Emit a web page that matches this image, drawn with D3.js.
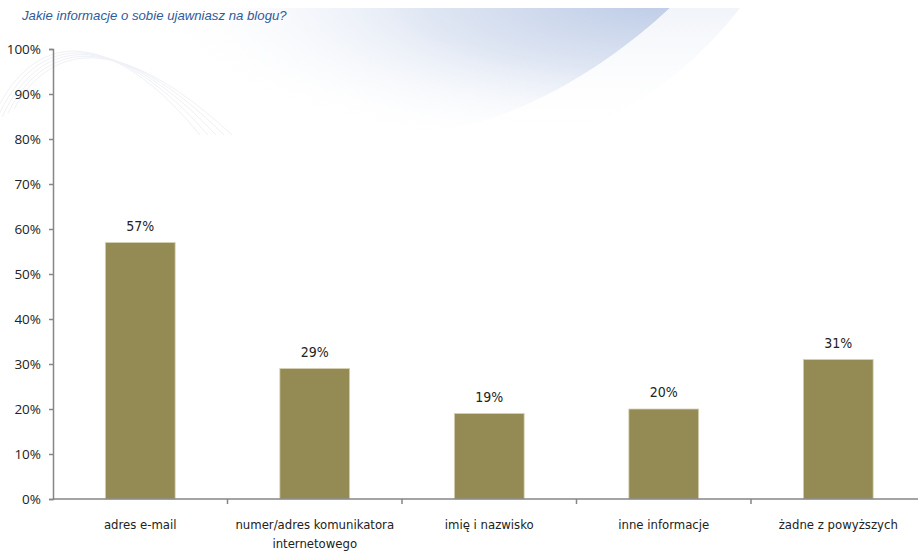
<!DOCTYPE html>
<html>
<head>
<meta charset="utf-8">
<script src="https://cdn.jsdelivr.net/npm/d3@7"></script>
<style>
  body { margin: 0; background: #fff; }
  svg { display: block; }
</style>
</head>
<body>
<svg class="chart"></svg>
<script>
const width = 918;
const height = 552;

const title = "Jakie informacje o sobie ujawniasz na blogu?";
const categories = [
    ["adres e-mail"],
    ["numer/adres komunikatora", "internetowego"],
    ["imię i nazwisko"],
    ["inne informacje"],
    ["żadne z powyższych"]
];
const values = [57, 29, 19, 20, 31];
const yTicks = [0, 10, 20, 30, 40, 50, 60, 70, 80, 90, 100];

const margin = { left: 53, top: 49, bottom: 499, right: 925.5 };
const labelFont = "'Liberation Sans Narrow', 'DejaVu Sans Condensed', 'Open Sans', sans-serif";

const svg = d3.select('svg.chart')
    .attr('width', width)
    .attr('height', height);

// soft blue swoosh in the background
const defs = svg.append('defs');
const grad = defs.append('radialGradient')
    .attr('id', 'swoosh')
    .attr('gradientUnits', 'userSpaceOnUse')
    .attr('cx', 660).attr('cy', 0).attr('r', 520)
    .attr('gradientTransform', 'translate(660,0) scale(1,0.3) translate(-660,0)');
grad.append('stop').attr('offset', '0').attr('stop-color', '#bccbe6');
grad.append('stop').attr('offset', '0.45').attr('stop-color', '#dfe6f3');
grad.append('stop').attr('offset', '1').attr('stop-color', '#ffffff').attr('stop-opacity', 0);

const grad2 = defs.append('linearGradient')
    .attr('id', 'veil')
    .attr('x1', '0').attr('y1', '0')
    .attr('x2', '0').attr('y2', '1');
grad2.append('stop').attr('offset', '0').attr('stop-color', '#f1f4f9');
grad2.append('stop').attr('offset', '1').attr('stop-color', '#ffffff').attr('stop-opacity', 0);

svg.append('path')
    .attr('d', 'M0,8 L670,8 C630,45 560,100 470,125 C330,140 150,140 0,125 Z')
    .attr('fill', 'url(#swoosh)');
svg.append('path')
    .attr('d', 'M670,8 L740,8 C700,60 640,110 560,140 L470,125 C560,100 630,45 670,8 Z')
    .attr('fill', 'url(#veil)');

// faint arcs near the top left
for (let i = 0; i < 5; i++) {
    svg.append('path')
        .attr('d', `M${-10 + i * 6},${125 - i * 4} C${30 + i * 6},${25 + i * 3} ${110 + i * 4},${25 + i * 3} ${200 + i * 8},${135}`)
        .attr('fill', 'none')
        .attr('stroke', '#eef1f6')
        .attr('stroke-width', 1);
}

// white strip on the very top
svg.append('rect')
    .attr('x', 0).attr('y', 0)
    .attr('width', width).attr('height', 8)
    .attr('fill', '#fff');

svg.append('text')
    .attr('x', 22)
    .attr('y', 20)
    .attr('font-family', 'Arial, Liberation Sans, sans-serif')
    .attr('font-style', 'italic')
    .attr('font-size', 13.2)
    .attr('fill', '#2f5b9a')
    .text(title);

const x = d3.scaleBand()
    .domain(categories.map(d => d.join(' ')))
    .range([margin.left, margin.right])
    .paddingInner(0.6)
    .paddingOuter(0.3);

const y = d3.scaleLinear()
    .domain([0, 100])
    .range([margin.bottom, margin.top]);

// bars
svg.append('g')
    .selectAll('rect')
    .data(values)
    .join('rect')
    .attr('x', (d, i) => x(categories[i].join(' ')))
    .attr('y', d => y(d))
    .attr('width', x.bandwidth())
    .attr('height', d => y(0) - y(d))
    .attr('fill', '#948a54')
    .attr('stroke', '#d8d2b4')
    .attr('stroke-width', 0.8);

// value labels
svg.append('g')
    .selectAll('text')
    .data(values)
    .join('text')
    .attr('x', (d, i) => x(categories[i].join(' ')) + x.bandwidth() / 2)
    .attr('y', d => y(d) - 12)
    .attr('text-anchor', 'middle')
    .attr('font-family', labelFont)
    .attr('font-size', 14)
    .attr('fill', '#222')
    .text(d => d + '%');

// y axis
const yAxis = svg.append('g')
    .attr('transform', `translate(${margin.left},0)`)
    .call(d3.axisLeft(y).tickValues(yTicks).tickFormat(d => d + '%').tickSizeOuter(0).tickSize(4).tickPadding(8));
yAxis.select('.domain').attr('stroke', '#868686').attr('stroke-width', 1.5);
yAxis.selectAll('.tick line').attr('stroke', '#868686').attr('stroke-width', 1.5);
yAxis.selectAll('.tick text')
    .attr('font-family', "'Open Sans', 'DejaVu Sans', sans-serif")
    .attr('font-size', 13.5)
    .attr('fill', '#222');

// x axis: line plus ticks at category boundaries
const xAxisG = svg.append('g');
xAxisG.append('line')
    .attr('x1', margin.left).attr('x2', width)
    .attr('y1', y(0)).attr('y2', y(0))
    .attr('stroke', '#868686')
    .attr('stroke-width', 1.5);

const step = x.step();
const boundaries = categories.map(d => x(d.join(' ')) - (step - x.bandwidth()) / 2).slice(1);
xAxisG.selectAll('line.tick')
    .data(boundaries)
    .join('line')
    .attr('class', 'tick')
    .attr('x1', d => d).attr('x2', d => d)
    .attr('y1', y(0)).attr('y2', y(0) + 5)
    .attr('stroke', '#868686')
    .attr('stroke-width', 1.5);

const catLabels = xAxisG.selectAll('text')
    .data(categories)
    .join('text')
    .attr('x', d => x(d.join(' ')) + x.bandwidth() / 2)
    .attr('y', y(0) + 30)
    .attr('text-anchor', 'middle')
    .attr('font-family', labelFont)
    .attr('font-size', 13)
    .attr('fill', '#222');

catLabels.selectAll('tspan')
    .data(d => d)
    .join('tspan')
    .attr('x', function () { return d3.select(this.parentNode).attr('x'); })
    .attr('dy', (d, i) => i === 0 ? 0 : 19)
    .text(d => d);
</script>
</body>
</html>
